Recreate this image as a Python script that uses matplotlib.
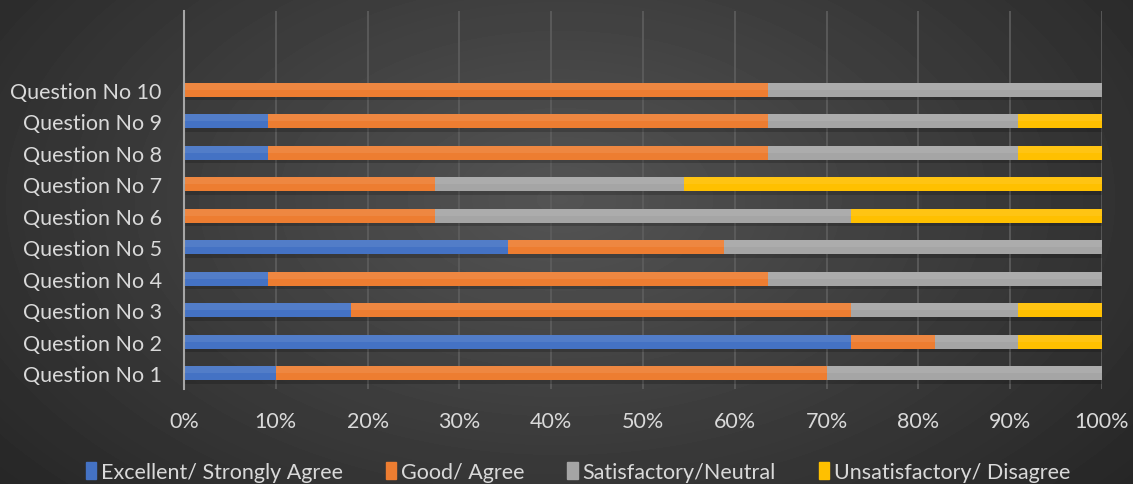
import numpy as np
import matplotlib
matplotlib.use("Agg")
from matplotlib import pyplot as plt
from matplotlib.ticker import FuncFormatter, MultipleLocator

plt.rcParams['font.family'] = ['Lato', 'DejaVu Sans']

questions = ['Question No %d' % i for i in range(1, 11)]
series = ['Excellent/ Strongly Agree', 'Good/ Agree', 'Satisfactory/Neutral', 'Unsatisfactory/ Disagree']
colors = ['#4472C4', '#ED7D31', '#A5A5A5', '#FFC000']

# percentages per question, Q1..Q10
excellent = [10.0, 72.7, 18.2, 9.1, 35.3, 0.0, 0.0, 9.1, 9.1, 0.0]
good = [60.0, 9.1, 54.5, 54.5, 23.5, 27.3, 27.3, 54.5, 54.5, 63.6]
satisfactory = [30.0, 9.1, 18.2, 36.4, 41.2, 45.4, 27.2, 27.3, 27.3, 36.4]
unsatisfactory = [0.0, 9.1, 9.1, 0.0, 0.0, 27.3, 45.5, 9.1, 9.1, 0.0]

values = [excellent, good, satisfactory, unsatisfactory]
text_col = '#d9d9d9'
fs = 15.5

fig = plt.figure(figsize=(11.33, 4.85), dpi=100)

# dark radial background
bg = fig.add_axes([0, 0, 1, 1], zorder=-10)
yy, xx = np.mgrid[0:485, 0:1133]
r = np.sqrt(((xx - 560) / 700.0) ** 2 + ((yy - 200) / 420.0) ** 2)
shade = np.clip(0.33 - 0.17 * r, 0.15, 0.33)
bg.imshow(shade, cmap='gray', vmin=0, vmax=1, aspect='auto', interpolation='bilinear')
bg.axis('off')

ax = fig.add_axes([0.1624, 0.1959, 0.8102, 0.7794])
ax.patch.set_alpha(0)

y = np.arange(len(questions))
h = 0.44
left = np.zeros(len(questions))
for vals, col, name in zip(values, colors, series):
    vals = np.array(vals)
    # soft drop shadow under each segment
    ax.barh(y - 0.12, vals, left=left, height=h, color='black', alpha=0.18,
            linewidth=0, zorder=1)
    ax.barh(y, vals, left=left, height=h, color=col, linewidth=0, zorder=2, label=name)
    # lighter band along the top edge
    ax.barh(y + h * 0.25, vals, left=left, height=h * 0.5, color='white', alpha=0.08,
            linewidth=0, zorder=3)
    left += vals

ax.set_xlim(0, 100)
ax.set_ylim(-0.5, 11.5)
ax.set_yticks(y)
ax.set_yticklabels(questions)
ax.xaxis.set_major_locator(MultipleLocator(10))
ax.xaxis.set_major_formatter(FuncFormatter(lambda v, p: '%d%%' % round(v)))
ax.grid(axis='x', color='#5e5e5e', linewidth=1.2, zorder=0)
ax.set_axisbelow(True)
for s in ['top', 'right', 'bottom']:
    ax.spines[s].set_visible(False)
ax.spines['left'].set_color('#a6a6a6')
ax.spines['left'].set_linewidth(1.5)
ax.tick_params(axis='both', length=0, colors=text_col, labelsize=fs)
ax.tick_params(axis='x', pad=16)
ax.tick_params(axis='y', pad=16)

leg = fig.legend([plt.Rectangle((0, 0), 1, 1, color=c) for c in colors], series,
                 loc='center', bbox_to_anchor=(0.51, 0.025), ncol=4, frameon=False,
                 fontsize=fs, handlelength=0.5, handleheight=0.8, handletextpad=0.2,
                 columnspacing=2.0)
for t in leg.get_texts():
    t.set_color(text_col)

fig.savefig('out.png', dpi=100)
